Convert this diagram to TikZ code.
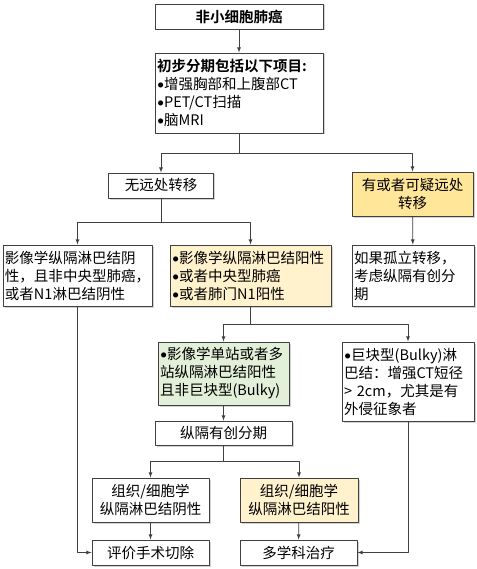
\documentclass[tikz,border=0pt]{standalone}
\usepackage{fontspec}
\setmainfont{Noto Sans CJK SC}[BoldFont={Noto Sans CJK SC Bold}]
\newfontfamily\bulletfont{Carlito}
\usepackage{tikz}
\usetikzlibrary{arrows,positioning,calc,shadows}
\definecolor{lineg}{HTML}{404040}
\definecolor{warnfill}{HTML}{FFE699}
\definecolor{posfill}{HTML}{FFF2CC}
\definecolor{greenfill}{HTML}{E2EFD9}
\newcommand \mybul {{\bulletfont •}}
\tikzset{
  box/.style={draw=lineg, fill=white, line width=0.9pt, inner xsep=2pt, inner ysep=0pt,
    font=\fontsize{14.5}{18}\selectfont,
    drop shadow={shadow xshift=1.5pt, shadow yshift=-1.5pt, opacity=0.35}},
  cbox/.style={box, align=center},
  lbox/.style={box, align=left},
  conn/.style={draw=lineg, line width=0.8pt}
}
\newcommand \mysplit[4]
{
\coordinate (#1j) at ($(#1.south)+(0,#4)$);
\draw[conn] (#1.south)--(#1j);
\draw[conn,->] (#1j)-|(#2.north);
\draw[conn,->] (#1j)-|(#3.north);
}

\begin{document}
\begin{tikzpicture}[x=1pt, y=-1pt, >=latex, line join=round]
\useasboundingbox (0,0) rectangle (476,569);
% boxes
\node[cbox, minimum width=168pt, minimum height=25pt] (nsclc) at (239,16.5) {\textbf{非小细胞肺癌}};
\node[lbox, text width=164pt, minimum height=80pt] (stage) at (239,93)
  {\textbf{初步分期包括以下项目:}\\\mybul 增强胸部和上腹部CT\\\mybul PET/CT扫描\\\mybul 脑MRI};
\node[cbox, minimum width=105pt, minimum height=25pt] (nodist) at (161,185.5) {无远处转移};
\node[cbox, fill=warnfill, minimum width=121pt, minimum height=44pt] (dist) at (412.5,194) {有或者可疑远处\\转移};
\node[lbox, text width=145pt, minimum height=61pt] (neg) at (77.5,275.5)
  {影像学纵隔淋巴结阴\\性，且非中央型肺癌，\\或者N1淋巴结阴性};
\node[lbox, fill=posfill, text width=157pt, minimum height=61pt] (pos) at (250.5,275.5)
  {\mybul 影像学纵隔淋巴结阳性\\\mybul 或者中央型肺癌\\\mybul 或者肺门N1阳性};
\node[lbox, text width=118pt, minimum height=61pt] (iso) at (413,275.5)
  {如果孤立转移，\\考虑纵隔有创分\\期};
\node[lbox, fill=greenfill, text width=127pt, minimum height=63pt] (single) at (223.5,373.5)
  {\mybul 影像学单站或者多\\站纵隔淋巴结阳性\\且非巨块型(Bulky)};
\node[lbox, text width=128pt, minimum height=79pt] (bulky) at (408,381.5)
  {\mybul 巨块型(Bulky)淋\\巴结：增强CT短径\\> 2cm，尤其是有\\外侵征象者};
\node[cbox, minimum width=137pt, minimum height=24pt] (inv) at (223.5,433) {纵隔有创分期};
\node[cbox, minimum width=117pt, minimum height=44pt] (hneg) at (150.5,500) {组织/细胞学\\纵隔淋巴结阴性};
\node[cbox, fill=posfill, minimum width=118pt, minimum height=44pt] (hpos) at (299,500) {组织/细胞学\\纵隔淋巴结阳性};
\node[cbox, minimum width=117pt, minimum height=25pt] (surg) at (150.5,552.5) {评价手术切除};
\node[cbox, minimum width=117pt, minimum height=25pt] (mdt) at (298.5,552.5) {多学科治疗};
% connectors
\draw[conn,->] (nsclc)--(stage);
\mysplit{stage}{nodist}{dist}{20}
\mysplit{nodist}{neg}{pos}{24}
\draw[conn,->] (dist)--(iso);
\mysplit{pos}{single}{bulky}{18}
\draw[conn,->] (single)--(inv);
\mysplit{inv}{hneg}{hpos}{16}
\draw[conn,->] (hneg)--(surg);
\draw[conn,->] (hpos)--(mdt);
\draw[conn,->] (neg.south)|-(surg.west);
\draw[conn,->] (bulky.south)|-(mdt.east);
\end{tikzpicture}
\end{document}
